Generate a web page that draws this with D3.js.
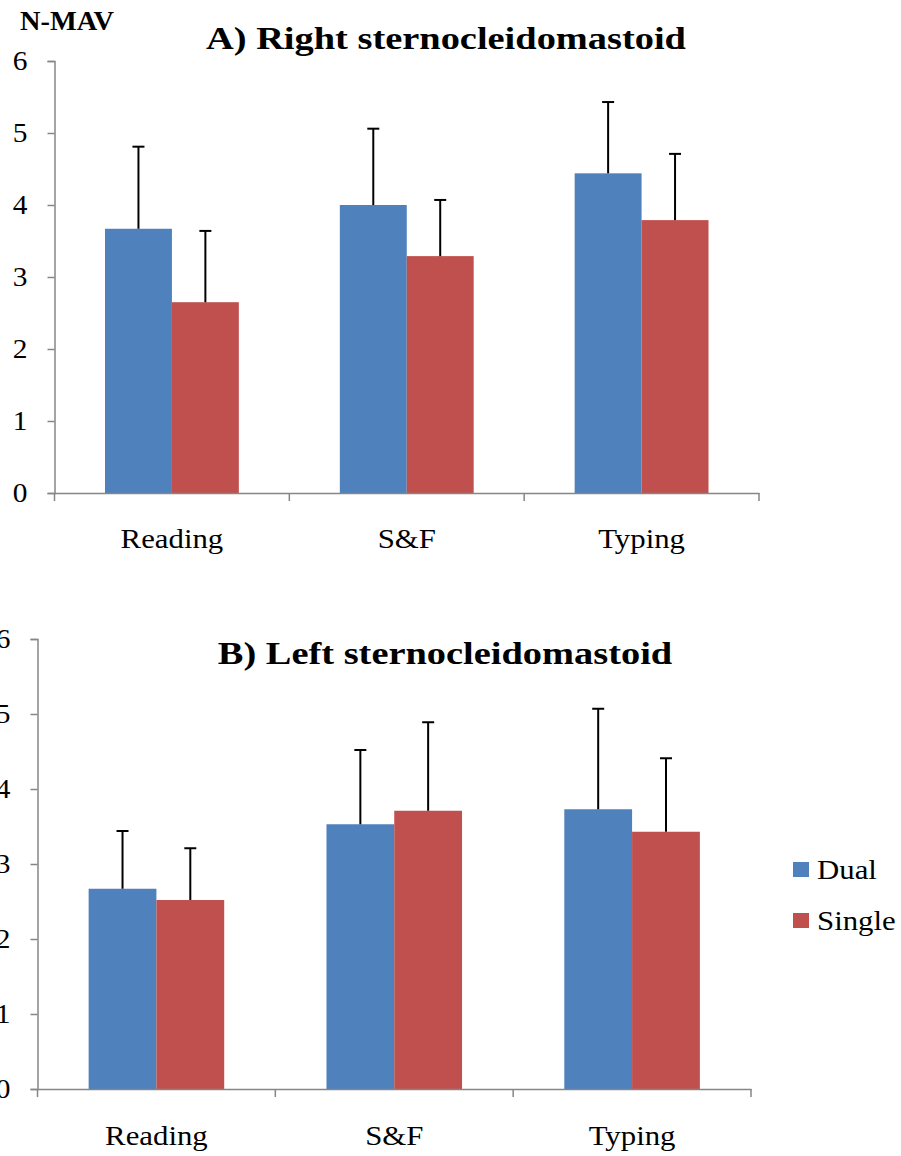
<!DOCTYPE html>
<html><head><meta charset="utf-8">
<script src="https://cdn.jsdelivr.net/npm/d3@7"></script>
<style>body{margin:0;background:#fff}svg{display:block}
svg text{font-family:"Liberation Serif","Times New Roman",Times,"DejaVu Serif",serif !important;}</style>
</head><body>
<script>
const categories = ["Reading", "S&F", "Typing"];
const seriesNames = ["Dual", "Single"];
const rightDual = [3.67, 4.00, 4.44];
const rightDualErr = [4.81, 5.06, 5.43];
const rightSingle = [2.65, 3.29, 3.79];
const rightSingleErr = [3.64, 4.07, 4.71];
const leftDual = [2.67, 3.53, 3.73];
const leftDualErr = [3.44, 4.52, 5.07];
const leftSingle = [2.52, 3.71, 3.43];
const leftSingleErr = [3.21, 4.89, 4.41];
const yTicks = [0, 1, 2, 3, 4, 5, 6];
const colors = ["#4F81BD", "#C0504D"];

const svg = d3.select("body").append("svg").attr("width", 901).attr("height", 1156);

function stretch(sel, k) {
  sel.each(function () {
    const w = this.getComputedTextLength();
    d3.select(this).attr("textLength", w * k).attr("lengthAdjust", "spacingAndGlyphs");
  });
}

function panel(cfg) {
  const g = svg.append("g");
  const x = d3.scaleBand().domain(categories).range([cfg.x0, cfg.x1]);
  const y = d3.scaleLinear().domain([0, 6]).range([cfg.y0, cfg.y6]);
  const vals = [cfg.dual, cfg.single];
  const errs = [cfg.dualErr, cfg.singleErr];
  const barW = x.bandwidth() * 0.285;
  categories.forEach((c, i) => {
    const cx = x(c) + x.bandwidth() / 2;
    [0, 1].forEach(s => {
      const bx = s === 0 ? cx - barW : cx;
      g.append("rect").attr("x", bx).attr("y", y(vals[s][i]))
        .attr("width", barW).attr("height", y(0) - y(vals[s][i]))
        .attr("fill", colors[s]);
      const mx = bx + barW / 2;
      g.append("line").attr("x1", mx).attr("x2", mx)
        .attr("y1", y(vals[s][i])).attr("y2", y(errs[s][i]))
        .attr("stroke", "#000").attr("stroke-width", 2);
      g.append("line").attr("x1", mx - 6).attr("x2", mx + 6)
        .attr("y1", y(errs[s][i])).attr("y2", y(errs[s][i]))
        .attr("stroke", "#000").attr("stroke-width", 2);
    });
  });
  const ya = g.append("g").attr("transform", `translate(${cfg.x0},0)`)
    .call(d3.axisLeft(y).tickValues(yTicks).tickFormat(d3.format("d")).tickSize(7).tickPadding(20));
  ya.select(".domain").attr("stroke", "#868686").attr("stroke-width", 1.5);
  ya.selectAll(".tick line").attr("stroke", "#868686").attr("stroke-width", 1.5);
  ya.selectAll("text").attr("font-size", 28).attr("fill", "#000");
  stretch(ya.selectAll("text"), 1.05);
  const xa = g.append("g").attr("transform", `translate(0,${cfg.y0})`)
    .call(d3.axisBottom(x).tickSize(0).tickPadding(cfg.labPad));
  xa.select(".domain").attr("stroke", "#868686").attr("stroke-width", 1.5);
  xa.selectAll("text").attr("font-size", 28).attr("fill", "#000");
  stretch(xa.selectAll("text"), 1.1);
  const bounds = [cfg.x0].concat(categories.map(c => x(c) + x.bandwidth()));
  g.selectAll(".sep").data(bounds).enter().append("line")
    .attr("x1", d => d).attr("x2", d => d).attr("y1", cfg.y0).attr("y2", cfg.y0 + 8)
    .attr("stroke", "#868686").attr("stroke-width", 1.5);
  const t = g.append("text").attr("x", cfg.titleX).attr("y", cfg.titleY).attr("text-anchor", "middle")
    .attr("font-weight", "bold").attr("font-size", 32).text(cfg.title);
  stretch(t, 1.2);
}

panel({x0: 54.5, x1: 759, y0: 493, y6: 61, labPad: 35, dual: rightDual, dualErr: rightDualErr,
  single: rightSingle, singleErr: rightSingleErr, title: "A) Right sternocleidomastoid", titleX: 446, titleY: 49});
panel({x0: 37.5, x1: 751, y0: 1089, y6: 639, labPad: 36, dual: leftDual, dualErr: leftDualErr,
  single: leftSingle, singleErr: leftSingleErr, title: "B) Left sternocleidomastoid", titleX: 445, titleY: 664});

const nm = svg.append("text").attr("x", 20).attr("y", 30)
  .attr("font-weight", "bold").attr("font-size", 27).text("N-MAV");
stretch(nm, 1.05);

const leg = svg.append("g");
seriesNames.forEach((n, i) => {
  leg.append("rect").attr("x", 793).attr("y", 862 + i * 51).attr("width", 16).attr("height", 15).attr("fill", colors[i]);
  const lt = leg.append("text").attr("x", 817).attr("y", 879 + i * 51)
    .attr("font-size", 28).text(n);
  stretch(lt, 1.1);
});
</script>
</body></html>
